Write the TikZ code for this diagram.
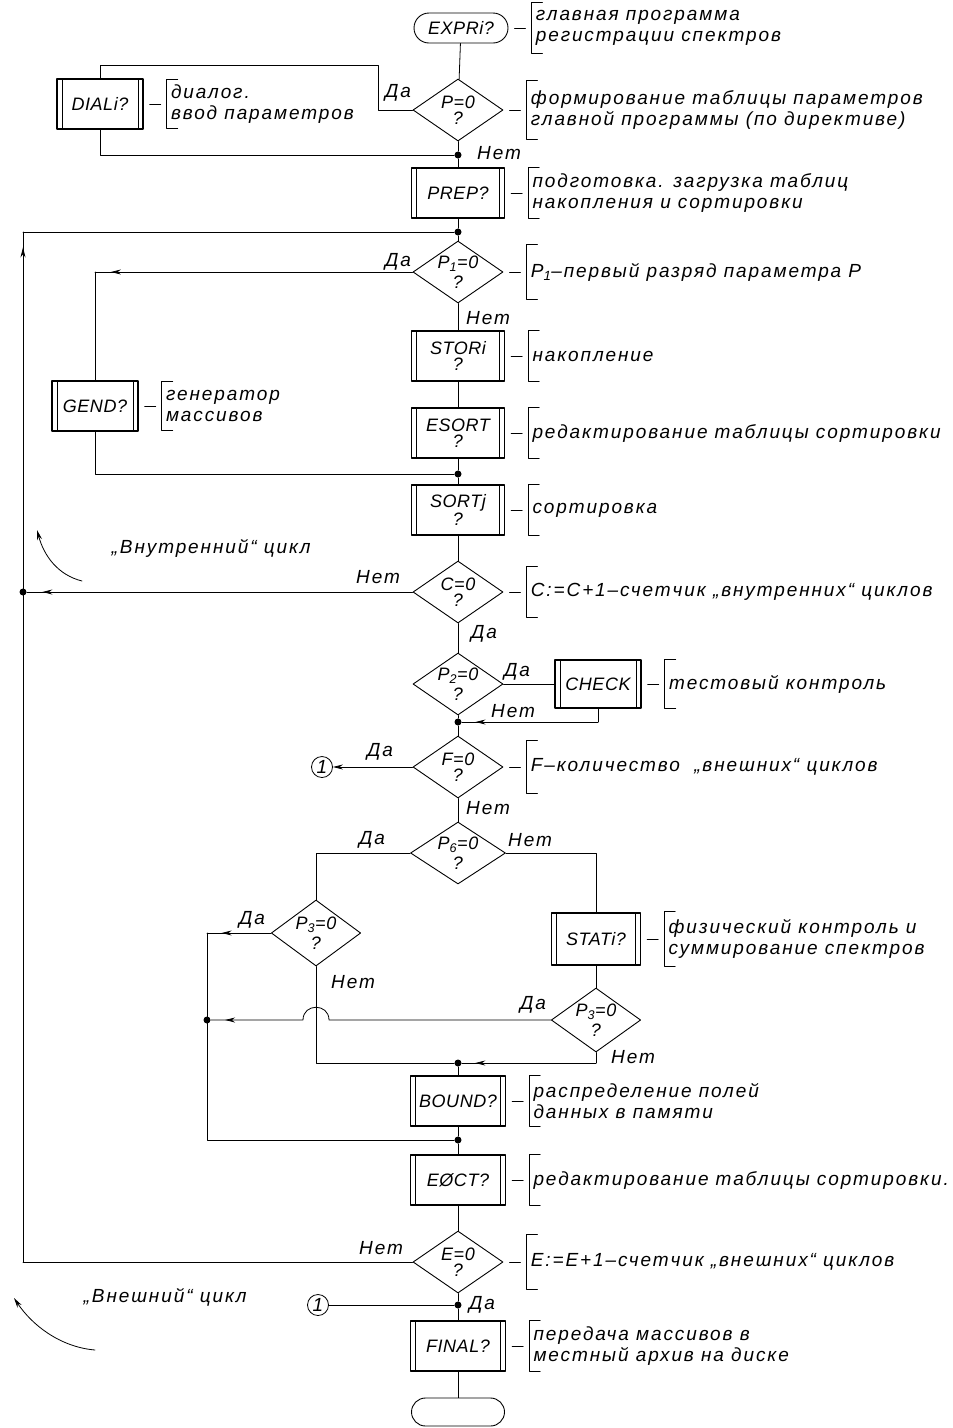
\documentclass[tikz,border=0pt]{standalone}
\usepackage{fontspec}
\setmainfont{Liberation Sans}[LetterSpace=10]
\newfontfamily\boxfont{Liberation Sans}[LetterSpace=3]
\usetikzlibrary{shapes.geometric,shapes.misc,positioning,decorations.markings,arrows.meta}

\tikzset{
  every node/.style={font=\fontsize{19}{21}\selectfont\itshape},
  term/.style={rounded rectangle,draw,line width=0.9pt,minimum width=96pt,minimum height=30pt,inner sep=1pt,
    font=\boxfont\fontsize{18}{20}\selectfont\itshape},
  proc/.style={draw,line width=1.3pt,minimum width=93pt,minimum height=50pt,inner sep=1pt,align=center,
    font=\boxfont\fontsize{18}{20}\selectfont\itshape,
    path picture={\draw[line width=0.9pt]
      ([xshift=5pt]path picture bounding box.north west) -- ([xshift=5pt]path picture bounding box.south west)
      ([xshift=-5pt]path picture bounding box.north east) -- ([xshift=-5pt]path picture bounding box.south east);}},
  dec/.style={diamond,draw,line width=0.9pt,minimum width=90pt,minimum height=62pt,inner sep=0pt,aspect=1.5,align=center,
    font=\boxfont\fontsize{18}{20}\selectfont\itshape},
  dot/.style={circle,fill,inner sep=0pt,minimum size=7pt},
  conn/.style={circle,draw,line width=0.8pt,inner sep=0pt,minimum size=21pt},
  note/.style={align=left,inner xsep=4pt,inner ysep=0pt},
  flowarr/.style={postaction={decorate,decoration={markings,
    mark=at position #1 with {\arrow{Stealth[length=10pt,width=5pt]}}}}},
}

% comment bracket: [height] name, node, text
\newcommand\remark[4][50pt]{%
  \node[note,minimum height=#1,right=23pt of #3] (#2) {#4};
  \draw[line width=0.9pt] ([xshift=11pt]#2.north west) -| (#2.south west) -- ++(11pt,0);
  \draw[line width=0.8pt] ([xshift=6pt]#3.east) -- ([xshift=-6pt]#2.west);
}

\begin{document}
\begin{tikzpicture}[x=1pt,y=-1pt,line width=0.8pt,line cap=round,line join=round]
\useasboundingbox (0,0) rectangle (953,1428);

% main column
\node[term] (t1) at (461,28) {EXPRi?};
\node[dec] (d0) at (458,110) {P=0\\[-4pt]?};
\node[proc,minimum width=86pt] (dial) at (100,104) {DIALi?};
\node[dot] (j1) at (458,155) {};
\node[proc] (prep) at (458,193) {PREP?};
\node[dot] (j2) at (458,232) {};
\node[dec] (d1) at (458,272) {P\textsubscript{1}=0\\[0pt]?};
\node[proc] (stor) at (458,356) {STORi\\[-4pt]?};
\node[proc,minimum width=86pt] (gend) at (95,406) {GEND?};
\node[proc] (esort) at (458,433) {ESORT\\[-4pt]?};
\node[dot] (j3) at (458,474) {};
\node[proc] (sortj) at (458,510) {SORTj\\[-2pt]?};
\node[dec] (d2) at (458,592) {C=0\\[-4pt]?};
\node[dec] (d3) at (458,684) {P\textsubscript{2}=0\\[0pt]?};
\node[proc,minimum width=86pt,minimum height=48pt] (check) at (598,684) {CHECK};
\node[dot] (j4) at (458,722) {};
\node[dec] (d4) at (458,767) {F=0\\[-4pt]?};
\node[conn] (con1) at (322,767) {1};
\node[dec,minimum width=95pt] (d5) at (458,853) {P\textsubscript{6}=0\\[0pt]?};
\node[dec,minimum width=85pt,minimum height=66pt] (d6) at (316,933) {P\textsubscript{3}=0\\[0pt]?};
\node[proc,minimum width=89pt,minimum height=52pt] (stat) at (596,939) {STATi?};
\node[dec,minimum width=85pt,minimum height=64pt] (d7) at (596,1020) {P\textsubscript{3}=0\\[0pt]?};
\node[dot] (j8) at (458,1063) {};
\node[proc,minimum width=95pt] (bound) at (458,1101) {BOUND?};
\node[dot] (j5) at (458,1140) {};
\node[proc,minimum width=95pt] (eoct) at (458,1180) {EØCT?};
\node[dec] (d8) at (458,1262) {E=0\\[-4pt]?};
\node[dot] (j6) at (458,1305) {};
\node[conn] (con2) at (318,1305) {1};
\node[proc,minimum width=95pt] (final) at (458,1346) {FINAL?};
\node[term,minimum width=95pt,minimum height=28pt] (t2) at (458,1412) {};

% comments
\remark{n1}{t1}{главная программа\\регистрации спектров}
\remark[48pt]{n2}{dial}{диалог.\\ввод параметров}
\remark[58pt]{n3}{d0}{формирование таблицы параметров\\главной программы (по директиве)}
\remark{n4}{prep}{подготовка. загрузка таблиц\\накопления и сортировки}
\remark[55pt]{n5}{d1}{P\textsubscript{1}–первый разряд параметра P}
\remark{n6}{stor}{накопление}
\remark[48pt]{n7}{gend}{генератор\\массивов}
\remark{n8}{esort}{редактирование таблицы сортировки}
\remark{n9}{sortj}{сортировка}
\remark{n10}{d2}{C:=C+1–счетчик „внутренних“ циклов}
\remark[48pt]{n11}{check}{тестовый контроль}
\remark[52pt]{n12}{d4}{F–количество \ „внешних“ циклов}
\remark[55pt]{n13}{stat}{физический контроль и\\суммирование спектров}
\remark{n14}{bound}{распределение полей\\данных в памяти}
\remark{n15}{eoct}{редактирование таблицы сортировки.}
\remark[55pt]{n16}{d8}{E:=E+1–счетчик „внешних“ циклов}
\remark{n17}{final}{передача массивов в\\местный архив на диске}

% connectors
\coordinate (lt) at (23,232);
\coordinate (lb) at (23,1262);
\coordinate (g1) at (95,272);
\coordinate (c1) at (598,722);
\coordinate (p3l) at (207,933);
\coordinate (b1) at (316,1063);
\coordinate (b2) at (596,1063);
\node[dot] (jc) at (23,592) {};
\node[dot] (j7) at (207,1020) {};

\draw (t1) -- (d0);
\draw (d0.west) -| (378,65) -| (dial.north);
\draw (dial.south) |- (j1);
\draw (d0) -- (j1) -- (prep) -- (j2) -- (d1);
\draw (j2) -- (lt);
\draw[flowarr=0.985] (lb) -- (lt);
\draw (d8.west) -- (lb);
\draw[flowarr=0.95] (d1.west) -- (g1);
\draw (g1) -- (gend.north);
\draw (gend.south) |- (j3);
\draw (d1) -- (stor) -- (esort) -- (j3) -- (sortj) -- (d2) -- (d3) -- (j4) -- (d4) -- (d5);
\draw[flowarr=0.96] (d2.west) -- (jc);
\draw (d3.east) -- (check.west);
\draw (check.south) -- (c1);
\draw[flowarr=0.9] (c1) -- (j4);
\draw[-{Stealth[length=10pt,width=5pt]}] (d4.west) -- (con1);
\draw (d5.west) -| (d6.north);
\draw (d5.east) -| (stat.north);
\draw[flowarr=0.77] (d6.west) -- (p3l);
\draw (p3l) |- (j5);
\draw (d6.south) -- (b1) -- (j8);
\draw (stat) -- (d7);
\draw[flowarr=0.96] (d7.west) -- (329,1020) .. controls (329,1003) and (303,1003) .. (303,1020) -- (j7);
\draw (d7.south) -- (b2);
\draw[flowarr=0.9] (b2) -- (j8);
\draw (j8) -- (bound) -- (j5) -- (eoct) -- (d8) -- (j6) -- (final) -- (t2);
\draw (con2) -- (j6);

% loop arrows
\draw[-{Stealth[length=10pt,width=5pt]}] (82,581) .. controls (58,575) and (44,556) .. (37,530);
\draw[-{Stealth[length=10pt,width=5pt]}] (95,1350) .. controls (60,1347) and (32,1325) .. (14,1298);

% yes / no
\node (ya0) at (398,93) {Да};
\node (no0) at (499,153) {Нет};
\node (ya1) at (398,262) {Да};
\node (no1) at (488,318) {Нет};
\node (no2) at (378,577) {Нет};
\node (ya2) at (484,634) {Да};
\node (ya3) at (517,672) {Да};
\node (no3) at (513,711) {Нет};
\node (ya4) at (380,752) {Да};
\node (no4) at (488,808) {Нет};
\node (ya5) at (372,840) {Да};
\node (no5) at (530,840) {Нет};
\node (ya6) at (252,920) {Да};
\node (no6) at (353,982) {Нет};
\node (ya7) at (533,1005) {Да};
\node (no7) at (633,1057) {Нет};
\node (no8) at (381,1248) {Нет};
\node (ya8) at (482,1305) {Да};

\node[anchor=west] (inner) at (108,548) {„Внутренний“ цикл};
\node[anchor=west] (outer) at (80,1297) {„Внешний“ цикл};
\end{tikzpicture}
\end{document}
